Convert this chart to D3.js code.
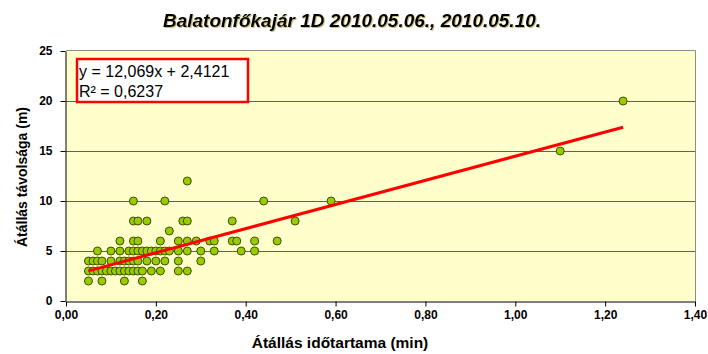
<!DOCTYPE html>
<html>
<head>
<meta charset="utf-8">
<script src="https://cdn.jsdelivr.net/npm/d3@7"></script>
<style>
  html, body { margin: 0; padding: 0; background: #ffffff; }
  svg { display: block; font-family: "Liberation Sans", Arial, sans-serif; }
</style>
</head>
<body>
<svg id="chart" width="708" height="354"></svg>
<script>
// Distance levels (m) and the measured changeover durations (min) at each level
const distanceLevels = [2, 3, 4, 5, 6, 7, 8, 10, 12, 15, 20];
const durationsAt2 = [0.05, 0.08, 0.13, 0.17];
const durationsAt3 = [0.05, 0.06, 0.07, 0.08, 0.09, 0.10, 0.11, 0.12, 0.13, 0.14, 0.15, 0.16, 0.17, 0.19, 0.21, 0.25, 0.27];
const durationsAt4 = [0.05, 0.06, 0.07, 0.08, 0.10, 0.12, 0.13, 0.14, 0.15, 0.16, 0.18, 0.20, 0.22, 0.25, 0.30];
const durationsAt5 = [0.07, 0.10, 0.12, 0.14, 0.15, 0.16, 0.17, 0.18, 0.19, 0.20, 0.21, 0.22, 0.23, 0.25, 0.27, 0.30, 0.33, 0.39, 0.42];
const durationsAt6 = [0.12, 0.15, 0.16, 0.21, 0.25, 0.27, 0.29, 0.32, 0.33, 0.37, 0.38, 0.42, 0.47];
const durationsAt7 = [0.23];
const durationsAt8 = [0.15, 0.16, 0.18, 0.26, 0.27, 0.37, 0.51];
const durationsAt10 = [0.15, 0.22, 0.44, 0.59];
const durationsAt12 = [0.27];
const durationsAt15 = [1.10];
const durationsAt20 = [1.24];
const durationsByLevel = [durationsAt2, durationsAt3, durationsAt4, durationsAt5, durationsAt6,
  durationsAt7, durationsAt8, durationsAt10, durationsAt12, durationsAt15, durationsAt20];

// Linear trend line fitted in the spreadsheet
const trendSlope = 12.069;
const trendIntercept = 2.4121;
const trendR2 = 0.6237;

const xTicks = [0, 0.2, 0.4, 0.6, 0.8, 1.0, 1.2, 1.4];
const yTicks = [0, 5, 10, 15, 20, 25];

const titleText = "Balatonfőkajár 1D 2010.05.06., 2010.05.10.";
const xTitle = "Átállás időtartama (min)";
const yTitle = "Átállás távolsága (m)";

// Flatten to point records
const points = [];
distanceLevels.forEach((d, i) => durationsByLevel[i].forEach(t => points.push({ t, d })));

const huLocale = d3.formatLocale({ decimal: ",", thousands: " ", grouping: [3], currency: ["", ""] });
const fmt2 = huLocale.format(".2f");
const fmt3 = huLocale.format(".3f");
const fmt4 = huLocale.format(".4f");

const svg = d3.select("#chart");
const plot = { left: 66, right: 695, top: 51, bottom: 301 };

const x = d3.scaleLinear().domain([0, 1.4]).range([plot.left, plot.right]);
const y = d3.scaleLinear().domain([0, 25]).range([plot.bottom, plot.top]);

// Soft shadow behind the title
const defs = svg.append("defs");
const f = defs.append("filter").attr("id", "tshadow")
  .attr("x", "-5%").attr("y", "-30%").attr("width", "110%").attr("height", "160%");
f.append("feDropShadow").attr("dx", 1).attr("dy", 1).attr("stdDeviation", 0.6)
  .attr("flood-color", "#8a7a00").attr("flood-opacity", 0.5);

// Plot area background
svg.append("rect")
  .attr("x", plot.left).attr("y", plot.top)
  .attr("width", plot.right - plot.left).attr("height", plot.bottom - plot.top)
  .attr("fill", "#ffffcc");

// Horizontal gridlines
svg.append("g").selectAll("line")
  .data(yTicks.filter(v => v > 0 && v < 25))
  .join("line")
  .attr("x1", plot.left).attr("x2", plot.right)
  .attr("y1", d => y(d) + 0.5).attr("y2", d => y(d) + 0.5)
  .attr("stroke", "#606060").attr("stroke-width", 1);

// Top and right border of the plot area
svg.append("path")
  .attr("d", `M${plot.left},${plot.top - 0.5}H${plot.right + 0.5}V${plot.bottom}`)
  .attr("fill", "none")
  .attr("stroke", "#8c8c8c").attr("stroke-width", 1);

// Axes
const xAxis = d3.axisBottom(x).tickValues(xTicks).tickFormat(fmt2).tickSize(5).tickSizeOuter(0).tickPadding(4);
const yAxis = d3.axisLeft(y).tickValues(yTicks).tickFormat(d3.format("d")).tickSize(5).tickSizeOuter(0).tickPadding(8);

const gx = svg.append("g").attr("transform", `translate(0,${plot.bottom + 0.5})`).call(xAxis);
const gy = svg.append("g").attr("transform", `translate(${plot.left - 0.5},0)`).call(yAxis);
[gx, gy].forEach(g => {
  g.select(".domain").attr("stroke", "#000").attr("stroke-width", 1);
  g.selectAll(".tick line").attr("stroke", "#000");
  g.selectAll(".tick text")
    .attr("fill", "#000")
    .attr("font-size", 12)
    .attr("font-weight", "bold")
    .attr("font-family", "'Liberation Sans', Arial, sans-serif");
});

// Data points
svg.append("g").selectAll("circle")
  .data(points)
  .join("circle")
  .attr("cx", p => x(p.t))
  .attr("cy", p => y(p.d))
  .attr("r", 4)
  .attr("fill", "#99cc00")
  .attr("stroke", "#3f4f00")
  .attr("stroke-width", 1);

// Trend line across the observed duration range
const tExtent = d3.extent(points, p => p.t);
svg.append("line")
  .attr("x1", x(tExtent[0])).attr("y1", y(trendSlope * tExtent[0] + trendIntercept))
  .attr("x2", x(tExtent[1])).attr("y2", y(trendSlope * tExtent[1] + trendIntercept))
  .attr("stroke", "#ff0000").attr("stroke-width", 3).attr("stroke-linecap", "butt");

// Trend equation box
const eqBox = svg.append("g");
eqBox.append("rect")
  .attr("x", 77).attr("y", 59).attr("width", 171).attr("height", 43)
  .attr("fill", "#ffffff").attr("stroke", "#ff0000").attr("stroke-width", 2.5);
eqBox.append("text")
  .attr("x", 79).attr("y", 77)
  .attr("font-size", 16)
  .text(`y = ${fmt3(trendSlope)}x + ${fmt4(trendIntercept)}`);
eqBox.append("text")
  .attr("x", 79).attr("y", 97)
  .attr("font-size", 16)
  .text(`R² = ${fmt4(trendR2)}`);

// Title
svg.append("text")
  .attr("x", 352).attr("y", 27)
  .attr("text-anchor", "middle")
  .attr("font-size", 19)
  .attr("font-weight", "bold")
  .attr("font-style", "italic")
  .attr("filter", "url(#tshadow)")
  .text(titleText);

// Axis titles
svg.append("text")
  .attr("x", 340).attr("y", 348)
  .attr("text-anchor", "middle")
  .attr("font-size", 15.5)
  .attr("font-weight", "bold")
  .text(xTitle);

svg.append("text")
  .attr("transform", `translate(27,177) rotate(-90)`)
  .attr("text-anchor", "middle")
  .attr("font-size", 14)
  .attr("font-weight", "bold")
  .text(yTitle);
</script>
</body>
</html>
